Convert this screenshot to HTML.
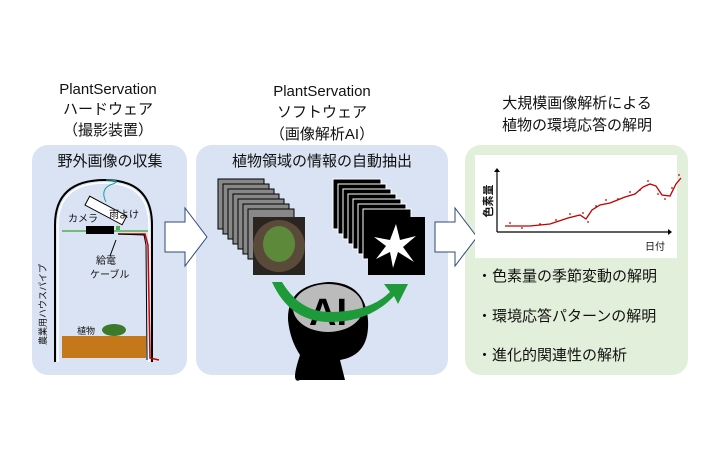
<!DOCTYPE html>
<html><head><meta charset="utf-8"><style>
html,body{margin:0;padding:0;background:#fff;}
svg{display:block;font-family:"Liberation Sans","Noto Sans CJK JP",sans-serif;}
</style></head><body>
<svg width="720" height="450" viewBox="0 0 720 450" xmlns="http://www.w3.org/2000/svg">
<g font-size="15" fill="#111" text-anchor="middle">
<text x="108" y="94">PlantServation</text>
<text x="108" y="114">ハードウェア</text>
<text x="108" y="135">（撮影装置）</text>
<text x="322" y="96">PlantServation</text>
<text x="322" y="117">ソフトウェア</text>
<text x="322" y="139">（画像解析AI）</text>
<text x="577" y="108">大規模画像解析による</text>
<text x="577" y="130">植物の環境応答の解明</text>
</g>
<rect x="32" y="145" width="155" height="230" rx="16" fill="#dae3f3"/>
<rect x="196" y="145" width="252" height="230" rx="16" fill="#dae3f3"/>
<rect x="465" y="145" width="223" height="230" rx="16" fill="#e2efda"/>
<polygon points="165,222 185,222 185,208 207,237 185,266 185,252 165,252" fill="#fff" stroke="#2f4a7a" stroke-width="1"/>
<polygon points="435,222 455,222 455,208 477,237 455,266 455,252 435,252" fill="#fff" stroke="#2f4a7a" stroke-width="1"/>
<!-- panel1 -->
<text x="110" y="166" font-size="15" text-anchor="middle" fill="#111">野外画像の収集</text>
<path d="M55,362 L55,225 Q55,180 105,180 Q152,180 152,225 L152,362" fill="none" stroke="#000" stroke-width="2"/>
<path d="M58,362 L58,225 Q58,183 105,183 Q149,183 149,225 L149,362" fill="none" stroke="#fff" stroke-width="1.5"/>
<line x1="62" y1="231" x2="148" y2="231" stroke="#4caf50" stroke-width="1.5"/>
<path d="M106,202 Q100,190 110,185 Q125,180 106,180" fill="none" stroke="#1aa0a0" stroke-width="1"/>
<rect x="85" y="205" width="42" height="10" transform="rotate(28 105 210)" fill="#fff" stroke="#000"/>
<rect x="86" y="226" width="28" height="8" fill="#000"/>
<rect x="116" y="226" width="4" height="4" fill="#4caf50"/>
<path d="M118,234 L145,234 L148,245 L150,358 L159,360" fill="none" stroke="#c00" stroke-width="1.5"/>
<path d="M118,234 L144,235 L146,245 L147,360" fill="none" stroke="#000" stroke-width="1"/>
<text x="109" y="218" font-size="10" fill="#111">雨よけ</text>
<text x="68" y="222" font-size="10" fill="#111">カメラ</text>
<text x="96" y="264" font-size="10" fill="#111">給電</text>
<text x="90" y="278" font-size="10" fill="#111">ケーブル</text>
<line x1="116" y1="240" x2="110" y2="256" stroke="#000"/>
<text x="0" y="0" font-size="9" fill="#111" transform="translate(46,345) rotate(-90)">農業用ハウスパイプ</text>
<rect x="62" y="336" width="84" height="22" fill="#c5781a"/>
<text x="77" y="334" font-size="9" fill="#111">植物</text>
<ellipse cx="114" cy="330" rx="12" ry="6" fill="#3b7a2a"/>
<!-- panel2 -->
<text x="322" y="166" font-size="15" text-anchor="middle" fill="#111">植物領域の情報の自動抽出</text>
<g fill="#888" stroke="#000" stroke-width="1">
<rect x="218" y="179" width="46" height="50"/><rect x="223" y="184" width="46" height="50"/><rect x="228" y="189" width="46" height="50"/><rect x="233" y="194" width="46" height="50"/><rect x="238" y="199" width="46" height="50"/><rect x="243" y="204" width="46" height="50"/><rect x="248" y="209" width="46" height="50"/>
</g>
<rect x="253" y="217" width="52" height="58" fill="#2a2520"/>
<circle cx="279" cy="246" r="26" fill="#5a4a3a"/>
<ellipse cx="279" cy="244" rx="16" ry="18" fill="#5d8a3a"/>
<g fill="#000" stroke="#fff" stroke-width="1">
<rect x="333" y="179" width="48" height="50"/><rect x="338" y="184" width="48" height="50"/><rect x="343" y="189" width="48" height="50"/><rect x="348" y="194" width="48" height="50"/><rect x="353" y="199" width="48" height="50"/><rect x="358" y="204" width="48" height="50"/><rect x="363" y="209" width="48" height="50"/>
</g>
<rect x="368" y="217" width="57" height="58" fill="#000"/>
<path d="M396,224 L400,240 L416,236 L403,247 L414,262 L398,252 L393,268 L390,252 L376,259 L386,246 L374,237 L390,240 Z" fill="#fff"/>
<path d="M300,355 Q290,385 300,380 L345,380 L340,360 Q370,355 368,320 Q365,282 328,282 Q287,285 288,320 Q290,340 300,355Z" fill="#000"/>
<ellipse cx="328" cy="308" rx="35" ry="24" fill="#bbb"/>
<text x="328" y="325" font-size="38" font-weight="bold" text-anchor="middle" fill="#000">AI</text>
<path d="M282,282 Q300,312 330,312 Q370,312 390,292 L384,284 L408,284 L398,304 L394,296 Q370,322 330,322 Q290,322 272,282 Z" fill="#1e9a3a"/>
<!-- panel3 -->
<rect x="475" y="155" width="202" height="103" fill="#fff"/>
<path d="M497,232 L668,232" stroke="#000" stroke-width="1.2"/>
<polygon points="668,229 672,232 668,235"/>
<path d="M497,232 L497,172" stroke="#000" stroke-width="1.2"/>
<polygon points="494,172 497,168 500,172"/>
<text x="0" y="0" font-size="11" font-weight="bold" fill="#111" text-anchor="middle" transform="translate(492,201) rotate(-90)">色素量</text>
<text x="645" y="250" font-size="10" fill="#111">日付</text>
<path d="M505,226 L530,226 L550,224 L568,218 L580,215 L586,219 L592,210 L600,205 L610,203 L625,197 L635,194 L643,187 L650,184 L656,186 L662,195 L670,196 L676,184 L681,178" fill="none" stroke="#c00000" stroke-width="1.3"/>
<g fill="#c00000">
<circle cx="510" cy="223" r="0.9"/><circle cx="522" cy="228" r="0.9"/><circle cx="540" cy="224" r="0.9"/><circle cx="556" cy="220" r="0.9"/><circle cx="570" cy="214" r="0.9"/><circle cx="583" cy="213" r="0.9"/><circle cx="588" cy="222" r="0.9"/><circle cx="596" cy="206" r="0.9"/><circle cx="606" cy="200" r="0.9"/><circle cx="618" cy="199" r="0.9"/><circle cx="630" cy="192" r="0.9"/><circle cx="640" cy="190" r="0.9"/><circle cx="648" cy="181" r="0.9"/><circle cx="658" cy="194" r="0.9"/><circle cx="665" cy="199" r="0.9"/><circle cx="672" cy="188" r="0.9"/><circle cx="679" cy="175" r="0.9"/>
</g>
<g font-size="15" fill="#111">
<text x="477" y="281">・色素量の季節変動の解明</text>
<text x="477" y="321">・環境応答パターンの解明</text>
<text x="477" y="360">・進化的関連性の解析</text>
</g>
</svg>
</body></html>
